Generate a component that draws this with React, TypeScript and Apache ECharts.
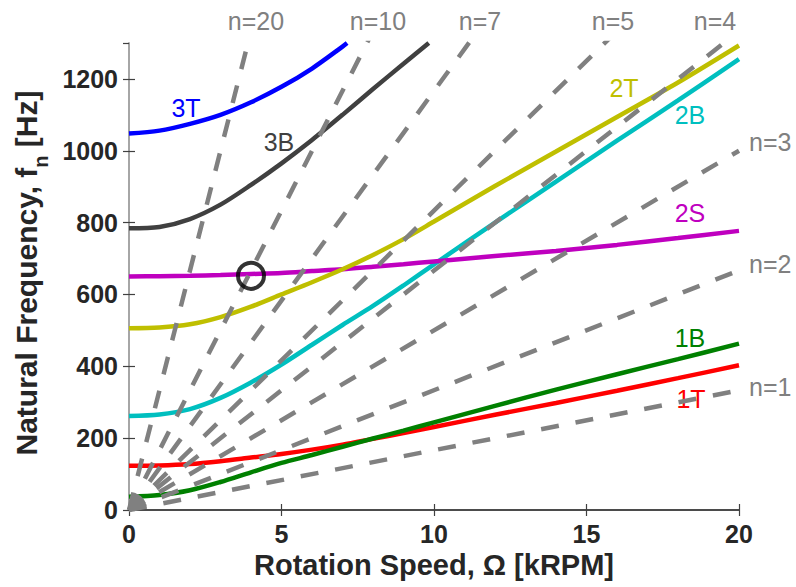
import React, { useEffect, useRef } from 'react';
import * as echarts from 'echarts';

// Rotation speed samples [kRPM]
const speeds = [0, 1, 2, 3, 4, 5, 6, 7, 8, 9, 10, 12, 14, 16, 18, 20];
// Natural frequencies [Hz]
const f1T = [123, 124, 128, 136, 146, 156, 168, 182, 198, 214, 231, 265, 298, 332, 367, 403];
const f1B = [37, 42, 55, 78, 105, 131, 153, 176, 199, 221, 244, 290, 335, 378, 420, 463];
const f2B = [262, 266, 281, 312, 355, 405, 460, 515, 568, 625, 684, 800, 914, 1028, 1140, 1255];
const f2S = [650, 651, 652, 654, 657, 660, 665, 670, 677, 684, 692, 707, 721, 738, 757, 777];
const f2T = [506, 508, 517, 537, 566, 600, 634, 670, 710, 754, 803, 902, 998, 1094, 1190, 1293];
const speeds3B = [0, 1, 2, 3, 4, 5, 6, 7, 8, 9, 9.83];
const f3B = [784, 788, 810, 850, 905, 965, 1030, 1100, 1172, 1242, 1300];
const speeds3T = [0, 1, 2, 3, 4, 5, 6, 7, 7.15];
const f3T = [1048, 1056, 1075, 1100, 1135, 1178, 1229, 1290, 1300];

// Engine order lines: frequency at 20 kRPM
const orderN = [1, 2, 3, 4, 5, 7, 10, 20];
const orderFreqAt20 = [333, 667, 1000, 1333, 1667, 2333, 3333, 6667];

// Highlighted crossing
const marker = [[4, 652]];

const xTicks = { min: 0, max: 20, interval: 5 };
const yTicks = { min: 0, max: 1300, interval: 200 };

const FONT = '"Liberation Sans", Arial, Helvetica, sans-serif';

const modes = [
  { name: '1T', x: speeds, y: f1T, color: '#FF0000' },
  { name: '1B', x: speeds, y: f1B, color: '#008000' },
  { name: '2B', x: speeds, y: f2B, color: '#00BFBF' },
  { name: '2S', x: speeds, y: f2S, color: '#BF00BF' },
  { name: '2T', x: speeds, y: f2T, color: '#BFBF00' },
  { name: '3B', x: speeds3B, y: f3B, color: '#404040' },
  { name: '3T', x: speeds3T, y: f3T, color: '#0000FF' },
];

const modeLabels = [
  { text: '3T', x: 186, y: 108, color: '#0000FF' },
  { text: '3B', x: 279, y: 142, color: '#404040' },
  { text: '2T', x: 624, y: 88, color: '#BFBF00' },
  { text: '2B', x: 690, y: 115, color: '#00BFBF' },
  { text: '2S', x: 690, y: 213, color: '#BF00BF' },
  { text: '1B', x: 690, y: 338, color: '#008000' },
  { text: '1T', x: 691, y: 399, color: '#FF0000' },
];

const topOrderLabels = [
  { text: 'n=20', x: 256 },
  { text: 'n=10', x: 378 },
  { text: 'n=7', x: 480 },
  { text: 'n=5', x: 613 },
  { text: 'n=4', x: 715 },
];
const rightOrderLabels = [
  { text: 'n=3', y: 142 },
  { text: 'n=2', y: 264 },
  { text: 'n=1', y: 387 },
];

export default function App() {
  const ref = useRef<HTMLDivElement>(null);
  useEffect(() => {
    const chart = echarts.init(ref.current!, null, { renderer: 'svg' });
    const modeSeries = modes.map((m) => ({
      type: 'line',
      name: m.name,
      data: m.x.map((s, i) => [s, m.y[i]]),
      symbol: 'none',
      smooth: 0.3,
      lineStyle: { color: m.color, width: 4.5 },
      z: 2,
    }));
    const orderSeries = orderN.map((n, i) => ({
      type: 'line',
      name: 'n=' + n,
      data: [
        [0, 0],
        [20, orderFreqAt20[i]],
      ],
      symbol: 'none',
      clip: true,
      lineStyle: { color: '#808080', width: 4.5, type: [18, 17] },
      z: 3,
    }));
    const textEls: any[] = [];
    modeLabels.forEach((l) => {
      textEls.push({
        type: 'text',
        x: l.x,
        y: l.y,
        z: 1,
        style: { text: l.text, fill: l.color, fontSize: 25, fontFamily: FONT, align: 'center', verticalAlign: 'middle' },
      });
    });
    topOrderLabels.forEach((l) => {
      textEls.push({
        type: 'text',
        x: l.x,
        y: 21,
        style: { text: l.text, fill: '#808080', fontSize: 25, fontFamily: FONT, align: 'center', verticalAlign: 'middle' },
      });
    });
    rightOrderLabels.forEach((l) => {
      textEls.push({
        type: 'text',
        x: 749,
        y: l.y,
        style: { text: l.text, fill: '#808080', fontSize: 25, fontFamily: FONT, align: 'left', verticalAlign: 'middle' },
      });
    });
    textEls.push({
      type: 'text',
      x: 26,
      y: 273,
      rotation: Math.PI / 2,
      style: {
        text: '{a|Natural Frequency, f}{b|n}{a| [Hz]}',
        align: 'center',
        verticalAlign: 'middle',
        rich: {
          a: { fontSize: 30, fontWeight: 'bold', fontFamily: FONT, fill: '#262626', color: '#262626', lineHeight: 50, verticalAlign: 'middle' },
          b: { fontSize: 20, fontWeight: 'bold', fontFamily: FONT, fill: '#262626', color: '#262626', lineHeight: 16, verticalAlign: 'bottom' },
        },
      },
    });

    const option: any = {
      animation: false,
      backgroundColor: '#ffffff',
      grid: { left: 129, right: 57, top: 43, bottom: 77, containLabel: false, outerBoundsMode: 'none' },
      xAxis: [
        {
          type: 'value',
          ...xTicks,
          position: 'bottom',
          name: 'Rotation Speed, Ω [kRPM]',
          nameLocation: 'middle',
          nameGap: 38,
          nameTextStyle: { fontSize: 29, fontWeight: 'bold', fontFamily: FONT, color: '#262626' },
          axisLine: { lineStyle: { color: '#404040', width: 1.5 } },
          axisTick: { inside: true, length: 6, lineStyle: { color: '#404040', width: 1.2 } },
          axisLabel: { fontSize: 25, fontWeight: 'bold', fontFamily: FONT, color: '#262626', margin: 11 },
          splitLine: { show: false },
        },
        {
          type: 'value',
          ...xTicks,
          position: 'top',
          axisLine: { show: true, lineStyle: { color: '#404040', width: 1.5 } },
          axisTick: { show: true, inside: true, length: 6, lineStyle: { color: '#404040', width: 1.2 } },
          axisLabel: { show: false },
          splitLine: { show: false },
        },
      ],
      yAxis: [
        {
          type: 'value',
          ...yTicks,
          position: 'left',
          axisLine: { show: true, lineStyle: { color: '#A0A0A0', width: 1.5 } },
          axisTick: { show: true, inside: true, length: 6, lineStyle: { color: '#404040', width: 1.2 } },
          axisLabel: {
            fontSize: 25,
            fontWeight: 'bold',
            fontFamily: FONT,
            color: '#262626',
            margin: 11,
            showMaxLabel: false,
            formatter: (v: number) => (v > 1200 ? '' : String(v)),
          },
          splitLine: { show: false },
        },
        {
          type: 'value',
          ...yTicks,
          position: 'right',
          axisLine: { show: true, lineStyle: { color: '#A0A0A0', width: 1.5 } },
          axisTick: { show: true, inside: true, length: 6, lineStyle: { color: '#404040', width: 1.2 } },
          axisLabel: { show: false },
          splitLine: { show: false },
        },
      ],
      series: [
        ...modeSeries,
        ...orderSeries,
        {
          type: 'scatter',
          data: marker,
          symbol: 'circle',
          symbolSize: 26,
          itemStyle: { color: 'rgba(0,0,0,0)', borderColor: '#000000', borderWidth: 4 },
          z: 5,
        },
      ],
      graphic: { elements: textEls },
    };
    chart.setOption(option);
    return () => chart.dispose();
  }, []);
  return (
    <div
      ref={ref}
      style={{ position: 'fixed', left: 0, top: 0, width: 796, height: 587, background: '#fff' }}
    />
  );
}
